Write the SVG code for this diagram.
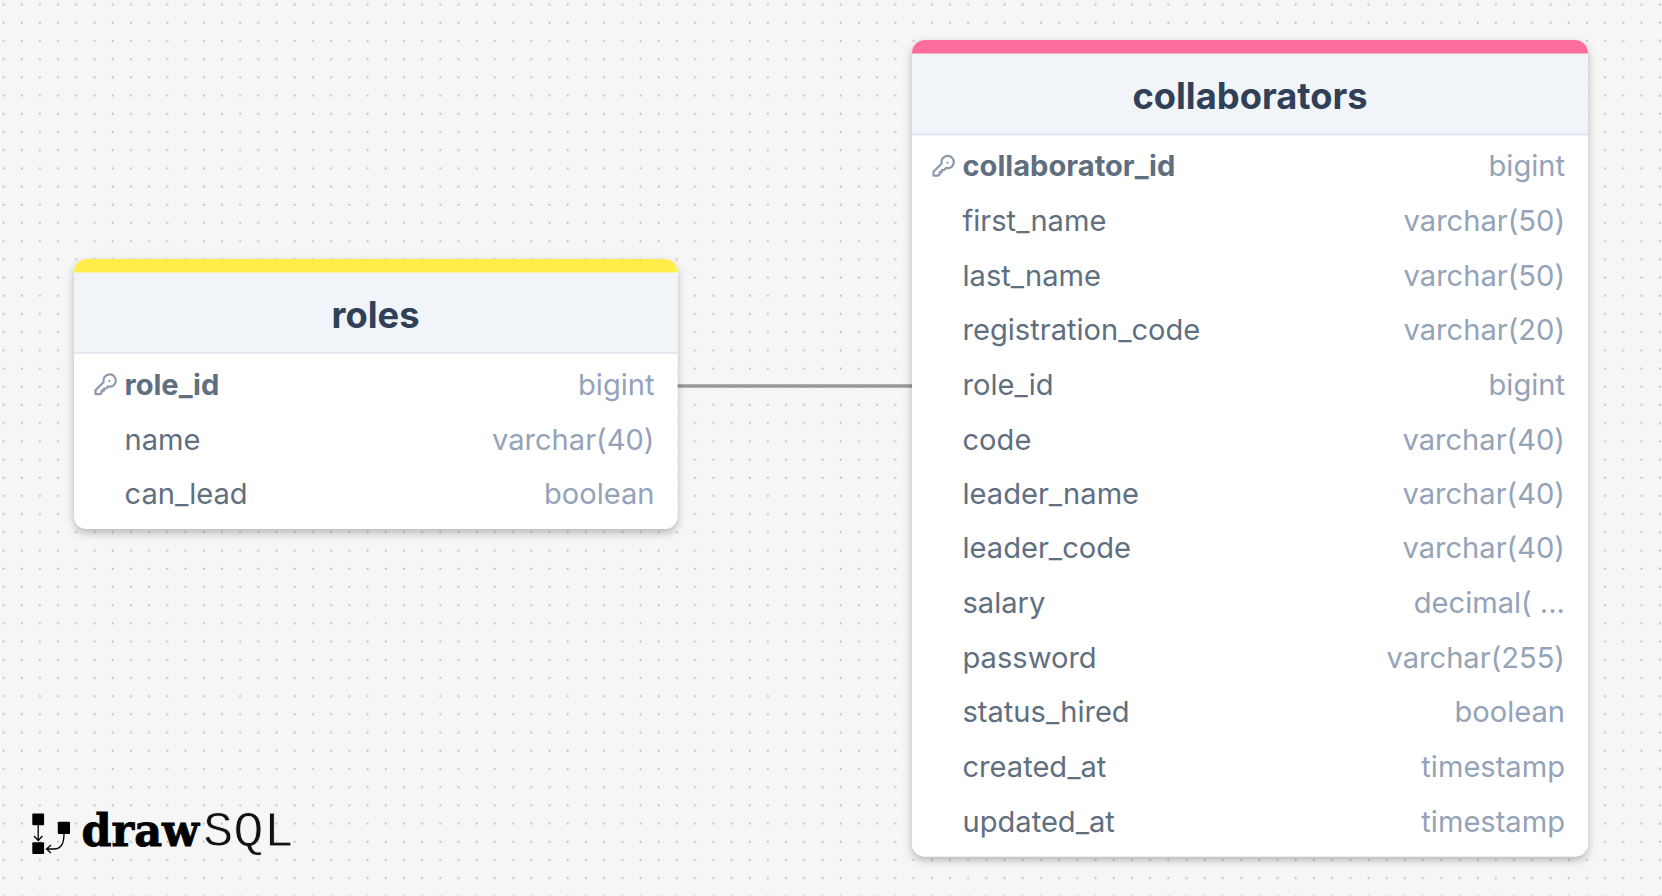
<svg xmlns="http://www.w3.org/2000/svg" width="1662" height="896" viewBox="0 0 1662 896">
<style>
text{font-family:Inter,"Liberation Sans",sans-serif}
.title{font-size:36.3px;font-weight:700;fill:#2f4057;text-anchor:middle}
.pk{font-size:29.1px;font-weight:700;fill:#5f6f80}
.col{font-size:29.1px;fill:#5f6f80}
.typ{font-size:29.1px;fill:#94a3b8;text-anchor:end}
.hdr{fill:#f1f5f9}
.sep{stroke:#dbe3ec;stroke-width:1.5}
.card{fill:#fff;filter:url(#sh)}
.key{fill:none;stroke:#8a99ab;stroke-width:2.5;stroke-linecap:round;stroke-linejoin:round}
</style>
<defs>
<pattern id="dots" width="18.2" height="18.2" patternUnits="userSpaceOnUse" x="-5.8" y="-4.8"><rect x="8.4" y="8.4" width="1.8" height="1.8" fill="#bababa"/></pattern>
<filter id="sh" x="-5%" y="-5%" width="110%" height="110%"><feDropShadow dx="0" dy="4" stdDeviation="4" flood-color="#000" flood-opacity=".26"/></filter>
<clipPath id="c1"><rect x="74" y="259" width="603.500" height="270" rx="13"/></clipPath>
<clipPath id="c2"><rect x="912" y="40" width="676" height="816.500" rx="13"/></clipPath>
<g id="k"><path class="key" d="M0 20.500 v-4.300 l9.300-9.300 a7 7 0 1 1 5 5 l-2.300 2.300 h-2.500 v2.500 h-2.500 v2.500 l-1.500 1.300 z"/><circle cx="15.700" cy="5.800" r="1.300" fill="#8a99ab"/></g>
</defs>
<rect id="bg" width="1662" height="896" fill="#f6f6f6"/>
<rect width="1662" height="896" fill="url(#dots)"/>
<g id="connectors"><line x1="677" y1="386" x2="912" y2="386" stroke="#999" stroke-width="3.600"/></g>
<g id="table-roles">
<rect class="card" x="74" y="259" width="603.500" height="270" rx="13"/>
<g clip-path="url(#c1)"><rect class="hdr" x="74" y="272" width="604" height="81"/><rect x="74" y="259" width="604" height="13.500" fill="#ffed4a"/></g>
<line class="sep" x1="74" y1="353" x2="677.500" y2="353"/>
<text class="title" x="375.500" y="327.500">roles</text>
<use href="#k" transform="translate(95.500 376) scale(.88)"/>
<text class="pk" x="124.500" y="394.500">role_id</text><text class="typ" x="654.500" y="394.500">bigint</text>
<text class="col" x="124.500" y="449.500">name</text><text class="typ" x="654.500" y="449.500">varchar(40)</text>
<text class="col" x="124.500" y="504">can_lead</text><text class="typ" x="654.500" y="504">boolean</text>
</g>
<g id="table-collaborators">
<rect class="card" x="912" y="40" width="676" height="816.500" rx="13"/>
<g clip-path="url(#c2)"><rect class="hdr" x="912" y="53" width="676" height="81"/><rect x="912" y="40" width="676" height="13.500" fill="#fb6e9b"/></g>
<line class="sep" x1="912" y1="134.500" x2="1588" y2="134.500"/>
<text class="title" x="1250" y="108.500">collaborators</text>
<use href="#k" transform="translate(933.500 157.500) scale(.88)"/>
<text class="pk" x="962.500" y="175.700">collaborator_id</text><text class="typ" x="1565" y="175.700">bigint</text>
<text class="col" x="962.500" y="231">first_name</text><text class="typ" x="1565" y="231">varchar(50)</text>
<text class="col" x="962.500" y="285.600">last_name</text><text class="typ" x="1565" y="285.600">varchar(50)</text>
<text class="col" x="962.500" y="340">registration_code</text><text class="typ" x="1565" y="340">varchar(20)</text>
<text class="col" x="962.500" y="394.600">role_id</text><text class="typ" x="1565" y="394.600">bigint</text>
<text class="col" x="962.500" y="449.500">code</text><text class="typ" x="1565" y="449.500">varchar(40)</text>
<text class="col" x="962.500" y="504">leader_name</text><text class="typ" x="1565" y="504">varchar(40)</text>
<text class="col" x="962.500" y="558.400">leader_code</text><text class="typ" x="1565" y="558.400">varchar(40)</text>
<text class="col" x="962.500" y="613">salary</text><text class="typ" x="1565" y="613">decimal( ...</text>
<text class="col" x="962.500" y="667.600">password</text><text class="typ" x="1565" y="667.600">varchar(255)</text>
<text class="col" x="962.500" y="722.400">status_hired</text><text class="typ" x="1565" y="722.400">boolean</text>
<text class="col" x="962.500" y="776.800">created_at</text><text class="typ" x="1565" y="776.800">timestamp</text>
<text class="col" x="962.500" y="831.800">updated_at</text><text class="typ" x="1565" y="831.800">timestamp</text>
</g>
<g id="logo">
<rect x="32.300" y="813.500" width="11.800" height="11.800" rx="1"/><rect x="32.300" y="842.300" width="11.800" height="11.800" rx="1"/><rect x="57.800" y="821.800" width="12.200" height="12.200" rx="1"/>
<path d="M38.200 825v15M34 836l4.200 4.500 4.200-4.500M64 834c0 10-3 15-10 15h-7M51 845l-4.500 4 4.500 4" fill="none" stroke="#000" stroke-width="1.300"/>
<text x="81.500" y="846" font-size="44.500" font-weight="700" textLength="117.500" lengthAdjust="spacingAndGlyphs" stroke="#000" stroke-width=".9" style="font-family:'DejaVu Serif',serif">draw</text>
<text x="203" y="846" font-size="50" font-weight="400" textLength="91" lengthAdjust="spacingAndGlyphs" stroke="#f6f6f6" stroke-width=".8" style="font-family:'Liberation Mono',monospace" fill="#111">SQL</text>
</g>
</svg>
